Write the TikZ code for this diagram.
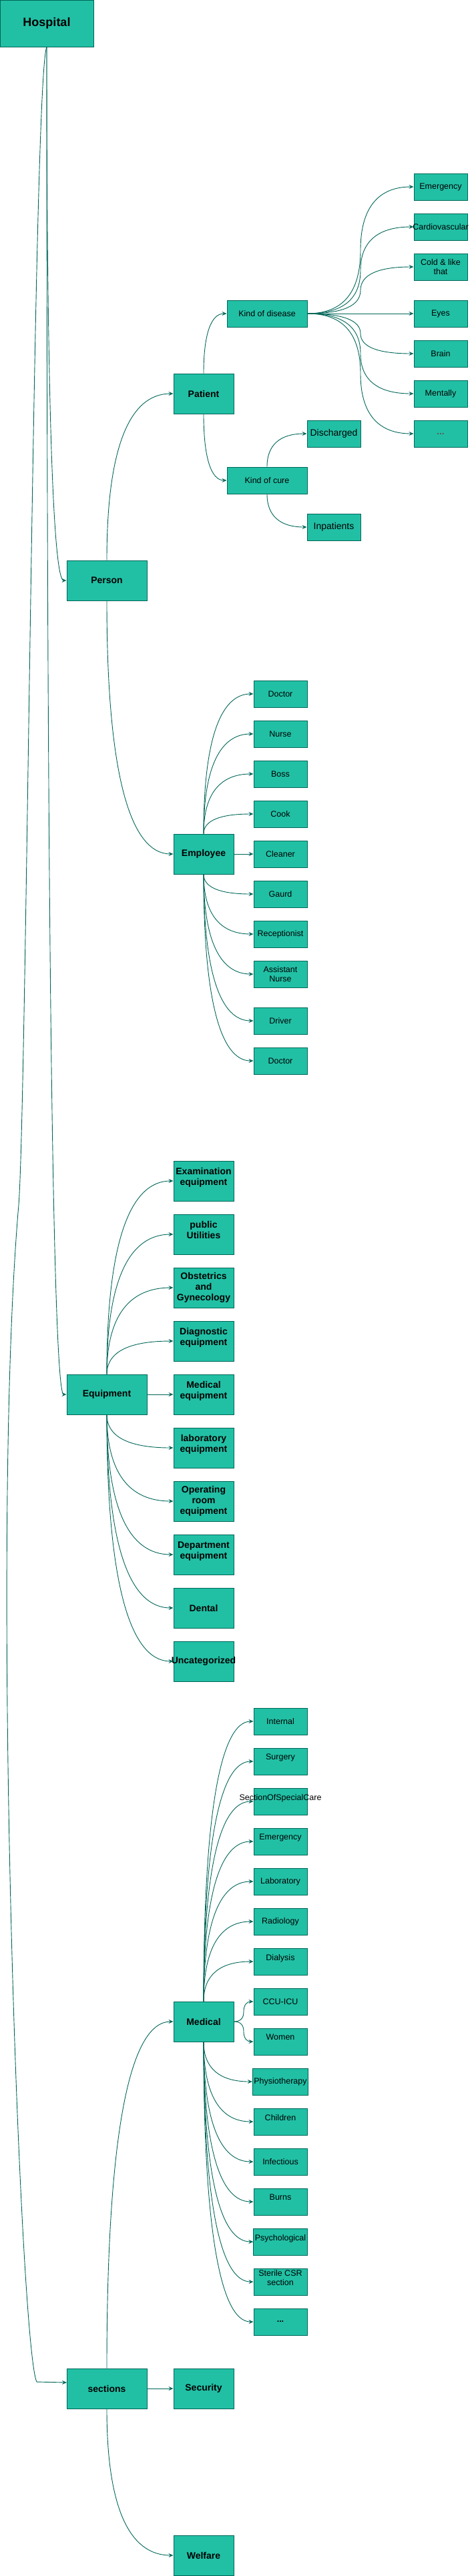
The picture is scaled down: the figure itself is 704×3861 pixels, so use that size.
\documentclass[tikz,border=0pt]{standalone}
\usepackage{fontspec}
\setmainfont{Liberation Sans}
\usetikzlibrary{arrows.meta,calc}
\definecolor{boxfill}{HTML}{21C0A5}
\definecolor{boxline}{HTML}{006658}
\definecolor{dots}{HTML}{5C5C5C}
\newcommand\elbow[2]{\draw[link] (#1) .. controls ($(#1)!.667!(#1|-#2)$) and ($(#2)!.667!(#1|-#2)$) .. (#2);}
\newcommand\sbend[3]{%
	\path ($(#1-|#3)!.5!(#2-|#3)$) coordinate (sm);
	\draw[link] (#1) .. controls ($(#1)!.667!(#1-|#3)$) and ($(sm)!.667!(#1-|#3)$) .. (sm)
	.. controls ($(sm)!.667!(#2-|#3)$) and ($(#2)!.667!(#2-|#3)$) .. (#2);}
\begin{document}
\begin{tikzpicture}[x=1pt,y=-1pt,
	>={Stealth[length=7pt,width=6pt,inset=2.5pt]},
	box/.style={draw=boxline,fill=boxfill,line width=1pt,align=center,inner sep=2pt,text=black},
	head/.style={box,font=\bfseries\fontsize{14}{16}\selectfont},
	group/.style={head,minimum width=120pt,minimum height=60pt},
	sub/.style={head,minimum width=90pt,minimum height=60pt},
	leaf/.style={box,minimum width=80pt,minimum height=40pt,font=\fontsize{12.5}{14}\selectfont},
	tool/.style={sub,font=\bfseries\fontsize{14}{16}\selectfont},
	raised/.style={text depth=13pt,inner ysep=0pt},
	over/.style={inner xsep=-30pt},
	link/.style={->,draw=boxline,line width=0.9pt}]
	\useasboundingbox (0,0) rectangle (704,3861);
	\node[head,minimum width=140pt,minimum height=70pt,font=\bfseries\fontsize{18}{21}\selectfont] (hosp) at (70,35) {Hospital};
	\node[group] (person) at (160,870) {Person};
	\node[group] (equip) at (160,2090) {Equipment};
	\node[group] (sect) at (160,3580) {sections};
	\node[sub] (patient) at (305,590) {Patient};
	\node[leaf,minimum width=120pt] (kdis) at (400,470) {Kind of disease};
	\node[leaf,minimum width=120pt] (kcure) at (400,720) {Kind of cure};
	\node[leaf,font=\fontsize{14}{16}\selectfont] (disch) at (500,650) {Discharged};
	\node[leaf,font=\fontsize{14}{16}\selectfont] (inpat) at (500,790) {Inpatients};
	\foreach \n/\y/\t in {d1/280/Emergency,d3/400/{Cold \& like\\that},d4/470/Eyes,d5/530/Brain,d6/590/Mentally}
	\node[leaf] (\n) at (660,\y) {\t};
	\node[leaf,over] (d2) at (660,340) {Cardiovascular};
	\node[leaf,text=dots,font=\bfseries\fontsize{14}{16}\selectfont] (d7) at (660,650) {...};
	\node[sub] (emp) at (305,1280) {Employee};
	\foreach \n/\y/\t in {e1/1040/Doctor,e2/1100/Nurse,e3/1160/Boss,e4/1220/Cook,e5/1280/Cleaner,e6/1340/Gaurd,e7/1400/Receptionist,e8/1460/{Assistant\\Nurse},e9/1530/Driver,e10/1590/Doctor}
	\node[leaf] (\n) at (420,\y) {\t};
	\foreach \n/\y/\t in {q1/1770/{Examination\\equipment},q2/1850/{public\\Utilities},q4/2010/{Diagnostic\\equipment},q5/2090/{Medical\\equipment},q6/2170/{laboratory\\equipment},q8/2330/{Department\\equipment}}
	\node[tool,raised] (\n) at (305,\y) {\t};
	\foreach \n/\y/\t in {q3/1930/{Obstetrics\\and\\Gynecology},q7/2250/{Operating\\room\\equipment},q9/2410/Dental}
	\node[tool] (\n) at (305,\y) {\t};
	\node[tool,over] (q10) at (305,2490) {Uncategorized};
	\node[sub] (med) at (305,3030) {Medical};
	\node[sub] (secur) at (305,3580) {Security};
	\node[sub] (welf) at (305,3830) {Welfare};
	\foreach \n/\y/\t in {m1/2580/Internal,m5/2820/Laboratory,m6/2880/Radiology,m8/3000/CCU-ICU,m10/3120/Physiotherapy,m12/3240/Infectious}
	\node[leaf] (\n) at (420,\y) {\t};
	\foreach \n/\y/\t in {m2/2640/Surgery,m4/2760/Emergency,m7/2940/Dialysis,m9/3060/Women,m11/3180/Children,m13/3300/Burns,m14/3360/Psychological,m15/3420/{Sterile CSR\\section}}
	\node[leaf,raised] (\n) at (420,\y) {\t};
	\node[leaf,raised,over] (m3) at (420,2700) {SectionOfSpecialCare};
	\node[leaf,font=\bfseries\fontsize{12.5}{14}\selectfont] (m16) at (420,3480) {...};
	\elbow{hosp.south}{person.west}
	\elbow{hosp.south}{equip.west}
	\coordinate (kink) at (28,1806);
	\coordinate (secin) at (100,3571);
	\draw[link] (hosp.south) .. controls (50,110) and (40,1650) .. (kink) .. controls (-15,2300) and (30,3520) .. (55,3570) -- (secin);
	\elbow{person.north}{patient.west}
	\elbow{person.south}{emp.west}
	\elbow{patient.north}{kdis.west}
	\elbow{patient.south}{kcure.west}
	\elbow{kcure.north}{disch.west}
	\elbow{kcure.south}{inpat.west}
	\coordinate (fanx) at (540,470);
	\foreach \i in {1,...,7} {\sbend{kdis.east}{d\i.west}{fanx}}
	\foreach \i in {1,...,4} {\elbow{emp.north}{e\i.west}}
	\draw[link] (emp.east) -- (e5.west);
	\foreach \i in {6,...,10} {\elbow{emp.south}{e\i.west}}
	\foreach \i in {1,...,4} {\elbow{equip.north}{q\i.west}}
	\draw[link] (equip.east) -- (q5.west);
	\foreach \i in {6,...,10} {\elbow{equip.south}{q\i.west}}
	\elbow{sect.north}{med.west}
	\draw[link] (sect.east) -- (secur.west);
	\elbow{sect.south}{welf.west}
	\foreach \i in {1,...,7} {\elbow{med.north}{m\i.west}}
	\coordinate (medx) at (365,3030);
	\sbend{med.east}{m8.west}{medx}
	\sbend{med.east}{m9.west}{medx}
	\foreach \i in {10,...,16} {\elbow{med.south}{m\i.west}}
\end{tikzpicture}
\end{document}
